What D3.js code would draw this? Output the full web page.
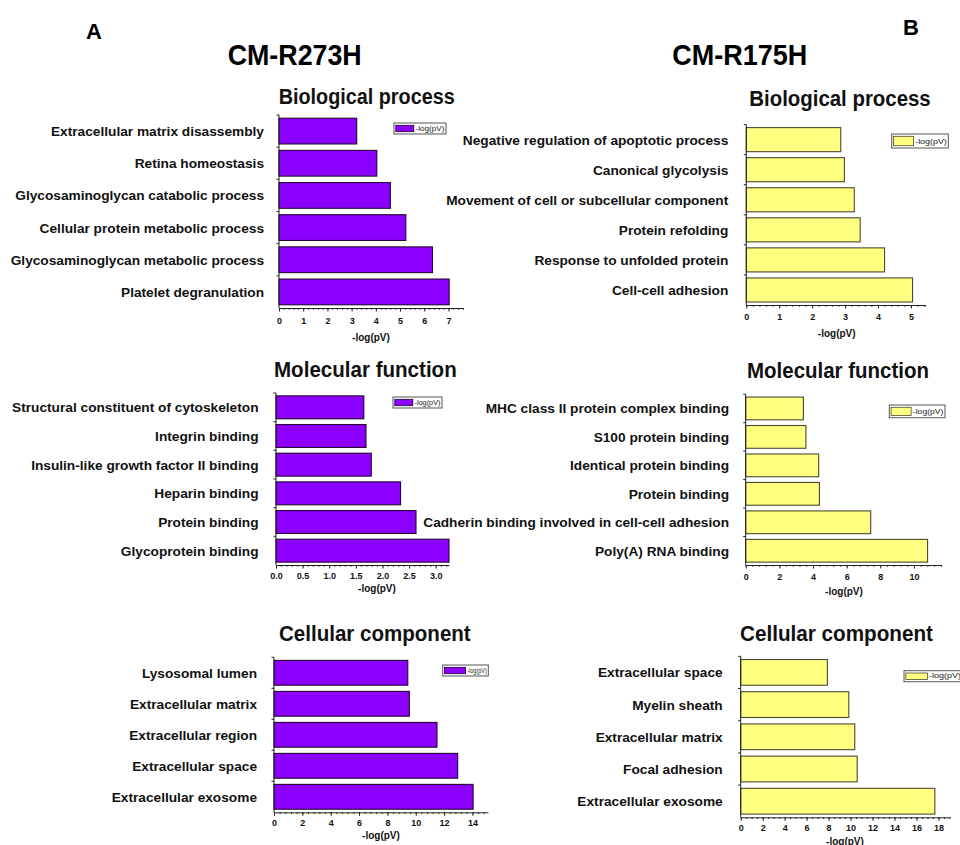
<!DOCTYPE html>
<html><head><meta charset="utf-8">
<script src="https://cdn.jsdelivr.net/npm/d3@7"></script>
<style>
body{margin:0;background:#fff}
svg{display:block}
text{font-family:"Liberation Sans",Arial,Helvetica,sans-serif}
</style>
</head><body>
<svg id="chart" width="960" height="845"></svg>
<script>
// ---------- DATA ----------
const bpA_terms = ["Extracellular matrix disassembly","Retina homeostasis","Glycosaminoglycan catabolic process","Cellular protein metabolic process","Glycosaminoglycan metabolic process","Platelet degranulation"];
const bpA_values = [3.21, 4.04, 4.60, 5.24, 6.34, 7.03];
const bpA_ticks = [0,1,2,3,4,5,6,7];

const mfA_terms = ["Structural constituent of cytoskeleton","Integrin binding","Insulin-like growth factor II binding","Heparin binding","Protein binding","Glycoprotein binding"];
const mfA_values = [1.65, 1.69, 1.79, 2.34, 2.63, 3.25];
const mfA_ticks = [0,0.5,1,1.5,2,2.5,3];

const ccA_terms = ["Lysosomal lumen","Extracellular matrix","Extracellular region","Extracellular space","Extracellular exosome"];
const ccA_values = [9.44, 9.55, 11.5, 12.96, 14.05];
const ccA_ticks = [0,2,4,6,8,10,12,14];

const bpB_terms = ["Negative regulation of apoptotic process","Canonical glycolysis","Movement of cell or subcellular component","Protein refolding","Response to unfolded protein","Cell-cell adhesion"];
const bpB_values = [2.87, 2.98, 3.28, 3.46, 4.20, 5.05];
const bpB_ticks = [0,1,2,3,4,5];

const mfB_terms = ["MHC class II protein complex binding","S100 protein binding","Identical protein binding","Protein binding","Cadherin binding involved in cell-cell adhesion","Poly(A) RNA binding"];
const mfB_values = [3.43, 3.58, 4.34, 4.38, 7.43, 10.81];
const mfB_ticks = [0,2,4,6,8,10];

const ccB_terms = ["Extracellular space","Myelin sheath","Extracellular matrix","Focal adhesion","Extracellular exosome"];
const ccB_values = [7.89, 9.84, 10.38, 10.60, 17.67];
const ccB_ticks = [0,2,4,6,8,10,12,14,16,18];

const seriesName = "-log(pV)";
const axisTitle = "-log(pV)";

// ---------- STYLE / LAYOUT ----------
const purple = {fill:"#8b00ff", stroke:"#24062f"};
const yellow = {fill:"#ffff80", stroke:"#4a4a30"};

const svg = d3.select("#chart");
svg.append("rect").attr("width",960).attr("height",845).attr("fill","#fff");

function fitText(sel, w){ sel.attr("textLength", w).attr("lengthAdjust","spacingAndGlyphs"); }

// headers
svg.append("text").attr("x",86).attr("y",39).attr("font-size",22).attr("font-weight","bold").text("A");
svg.append("text").attr("x",903).attr("y",35).attr("font-size",22).attr("font-weight","bold").text("B");
svg.append("text").attr("x",227.7).attr("y",65).attr("font-size",30).attr("font-weight","bold").text("CM-R273H").call(fitText,134);
svg.append("text").attr("x",672.3).attr("y",65).attr("font-size",30).attr("font-weight","bold").text("CM-R175H").call(fitText,135);

const panels = [
 {terms:bpA_terms, values:bpA_values, ticks:bpA_ticks, fmt:d3.format("d"), minor:0.2, max:7.6,
  x0:279, x1:463, y0:115, y1:308, gap:15, tickY:15.5, lblX:371, lblY:340.5, col:purple,
  leg:{x:394,y:123,w:52,h:11,sw:18}, title:{t:"Biological process", x:278.7, y:104, w:176}},
 {terms:mfA_terms, values:mfA_values, ticks:mfA_ticks, fmt:d3.format(".1f"), minor:0.1, max:3.25,
  x0:276, x1:449, y0:393, y1:565, gap:17.5, tickY:14, lblX:377, lblY:591.5, col:purple,
  leg:{x:393,y:397,w:49,h:11,sw:18}, title:{t:"Molecular function", x:274, y:377, w:182.7}},
 {terms:ccA_terms, values:ccA_values, ticks:ccA_ticks, fmt:d3.format("d"), minor:0.4, max:15.1,
  x0:274, x1:488, y0:657.3, y1:812.3, gap:17, tickY:13.5, lblX:381, lblY:838.5, col:purple,
  leg:{x:442.7,y:665,w:45.6,h:11,sw:21}, title:{t:"Cellular component", x:279, y:641, w:191.7}},
 {terms:bpB_terms, values:bpB_values, ticks:bpB_ticks, fmt:d3.format("d"), minor:0.2, max:5.45,
  x0:746.3, x1:925.7, y0:124.6, y1:305, gap:18, tickY:14.5, lblX:836.7, lblY:336.5, col:yellow,
  leg:{x:891.7,y:134,w:56.6,h:14,sw:20}, title:{t:"Biological process", x:749.3, y:106, w:181.4}},
 {terms:mfB_terms, values:mfB_values, ticks:mfB_ticks, fmt:d3.format("d"), minor:0.4, max:11.65,
  x0:745.7, x1:941.7, y0:394.2, y1:565, gap:16.7, tickY:15, lblX:844, lblY:595, col:yellow,
  leg:{x:889.3,y:405,w:55.7,h:12.7,sw:20}, title:{t:"Molecular function", x:747, y:378, w:182}},
 {terms:ccB_terms, values:ccB_values, ticks:ccB_ticks, fmt:d3.format("d"), minor:0.5, max:19.05,
  x0:740.7, x1:950, y0:656.3, y1:817.3, gap:18, tickY:13.5, lblX:845, lblY:844.5, col:yellow,
  leg:{x:904,y:670.7,w:60,h:11,sw:21.6}, title:{t:"Cellular component", x:740, y:640.7, w:193}}
];

panels.forEach(p => {
  const g = svg.append("g");
  const x = d3.scaleLinear().domain([0, p.max]).range([p.x0, p.x1]);
  const y = d3.scaleBand().domain(p.terms).range([p.y0, p.y1]).paddingInner(0.2).paddingOuter(0.1);

  // section title
  g.append("text").attr("x",p.title.x).attr("y",p.title.y).attr("font-size",22).attr("font-weight","bold")
    .attr("fill","#111").text(p.title.t).call(fitText,p.title.w);

  // bars
  g.selectAll("rect.bar").data(p.terms).join("rect").attr("class","bar")
    .attr("x", x(0)).attr("y", d => y(d))
    .attr("width", (d,i) => x(p.values[i]) - x(0)).attr("height", y.bandwidth())
    .attr("fill", p.col.fill).attr("stroke", p.col.stroke).attr("stroke-width",1.1);

  // category labels
  g.selectAll("text.cat").data(p.terms).join("text").attr("class","cat")
    .attr("x", p.x0 - p.gap).attr("y", d => y(d) + y.bandwidth()/2).attr("dy","0.36em")
    .attr("text-anchor","end").attr("font-size",13.7).attr("font-weight","bold").attr("fill","#111")
    .text(d => d);

  // y axis line with boundary ticks
  g.append("line").attr("x1",p.x0).attr("x2",p.x0).attr("y1",p.y0).attr("y2",p.y1)
    .attr("stroke","#222").attr("stroke-width",1);
  g.selectAll("line.yt").data(p.terms).join("line").attr("class","yt")
    .attr("x1",p.x0-2.5).attr("x2",p.x0).attr("y1",d=>y(d)-y.step()*0.1).attr("y2",d=>y(d)-y.step()*0.1)
    .attr("stroke","#222").attr("stroke-width",1);

  // x axis
  const ax = g.append("g").attr("transform",`translate(0,${p.y1})`);
  const minorVals = d3.range(0, p.max + 1e-9, p.minor);
  ax.call(d3.axisBottom(x).tickValues(minorVals).tickSize(1.8).tickFormat(""));
  ax.select(".domain").remove();
  const ax2 = g.append("g").attr("transform",`translate(0,${p.y1})`);
  ax2.call(d3.axisBottom(x).tickValues(p.ticks).tickSizeInner(3.5).tickSizeOuter(0).tickFormat(p.fmt));
  ax2.select(".domain").attr("stroke","#222");
  ax.selectAll("line").attr("stroke","#333");
  ax2.selectAll("line").attr("stroke","#222");
  ax2.selectAll("text").attr("y", p.tickY).attr("dy",0).attr("font-size",9).attr("font-weight","bold")
    .attr("fill","#111").attr("font-family",'"Liberation Sans",Arial,sans-serif');

  // axis title
  g.append("text").attr("x",p.lblX).attr("y",p.lblY).attr("text-anchor","middle")
    .attr("font-size",10).attr("font-weight","bold").attr("fill","#111").text(axisTitle);

  // legend
  const L = p.leg;
  g.append("rect").attr("x",L.x).attr("y",L.y).attr("width",L.w).attr("height",L.h)
    .attr("fill","#fff").attr("stroke","#555").attr("stroke-width",1);
  g.append("rect").attr("x",L.x+1.8).attr("y",L.y+2.3).attr("width",L.sw).attr("height",L.h-4.6)
    .attr("fill",p.col.fill).attr("stroke",p.col.stroke).attr("stroke-width",0.8);
  g.append("text").attr("x",L.x+L.sw+3.5).attr("y",L.y+L.h/2).attr("dy","0.35em")
    .attr("font-size",L.h>12?7.5:6.5).attr("fill","#222").text(seriesName)
    .call(fitText, Math.min(L.w - L.sw - 5, 32));
});
</script>
</body></html>
